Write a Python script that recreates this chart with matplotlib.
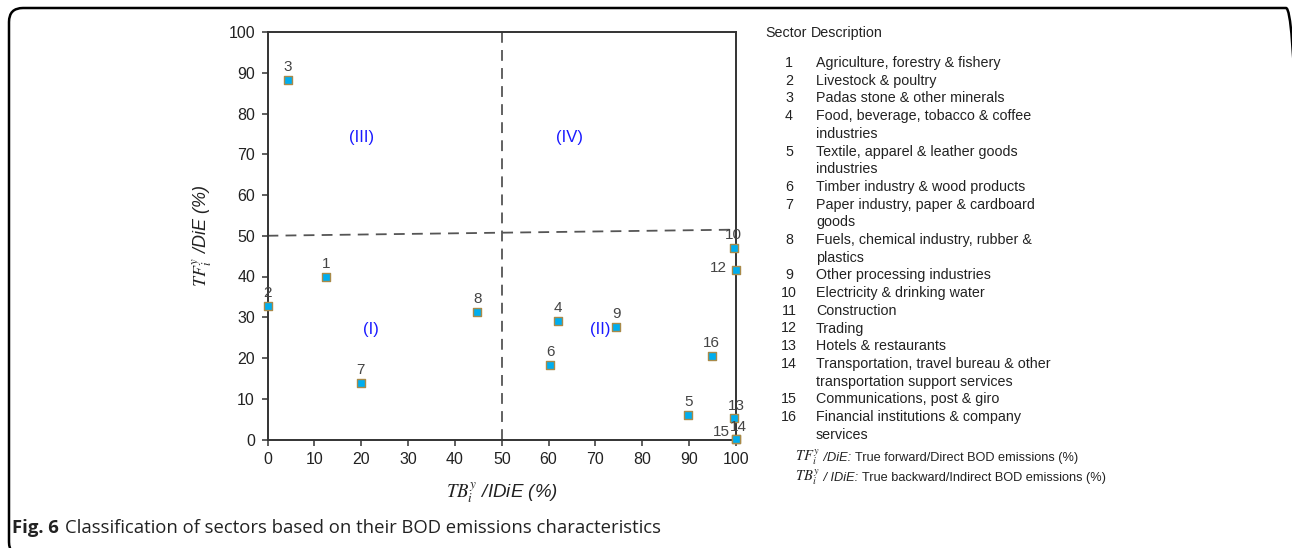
import matplotlib
matplotlib.use("Agg")
import matplotlib.pyplot as plt
from matplotlib.patches import FancyBboxPatch
from matplotlib.transforms import IdentityTransform

plt.rcParams['font.family'] = ['Liberation Sans', 'DejaVu Sans']
plt.rcParams['mathtext.fontset'] = 'stix'

# ---------------- data ----------------
sector_ids = ["1", "2", "3", "4", "5", "6", "7", "8", "9", "10", "12", "13", "14", "15", "16"]
tb_values = [12.5, 0.1, 4.4, 62.0, 89.8, 60.3, 19.9, 44.8, 74.4, 99.5, 100.0, 99.6, 100.0, 100.0, 94.8]
tf_values = [40.0, 32.7, 88.1, 29.2, 6.0, 18.3, 13.8, 31.2, 27.5, 46.9, 41.6, 5.3, 0.1, 0.1, 20.5]

x_ticks = [0, 10, 20, 30, 40, 50, 60, 70, 80, 90, 100]
y_ticks = [0, 10, 20, 30, 40, 50, 60, 70, 80, 90, 100]

quadrant_names = ["(I)", "(II)", "(III)", "(IV)"]
quadrant_x = [22, 71, 20, 64.5]
quadrant_y = [27, 27, 74, 74]

legend_numbers = ["1", "2", "3", "4", "", "5", "", "6", "7", "", "8", "", "9", "10", "11",
                  "12", "13", "14", "", "15", "16", ""]
legend_descriptions = [
    "Agriculture, forestry & fishery",
    "Livestock & poultry",
    "Padas stone & other minerals",
    "Food, beverage, tobacco & coffee",
    "industries",
    "Textile, apparel & leather goods",
    "industries",
    "Timber industry & wood products",
    "Paper industry, paper & cardboard",
    "goods",
    "Fuels, chemical industry, rubber &",
    "plastics",
    "Other processing industries",
    "Electricity & drinking water",
    "Construction",
    "Trading",
    "Hotels & restaurants",
    "Transportation, travel bureau & other",
    "transportation support services",
    "Communications, post & giro",
    "Financial institutions & company",
    "services",
]

# ---------------- figure ----------------
W, H = 1292, 548
DPI = 100
fig = plt.figure(figsize=(W / DPI, H / DPI), dpi=DPI)


def fx(px):
    return px / W


def fy(py):
    return 1 - py / H


# rounded border in pixel units (bottom and right run off the picture)
left_px, top_px, right_px, bottom_px = 9, 8, 1300, 556
border = FancyBboxPatch((left_px, H - bottom_px), right_px - left_px, bottom_px - top_px,
                        boxstyle="round,pad=0,rounding_size=14",
                        transform=IdentityTransform(), fill=False,
                        edgecolor='black', linewidth=1.8, clip_on=False)
fig.patches.append(border)

ax = fig.add_axes([fx(267.5), fy(439.5), fx(736) - fx(267.5), fy(32) - fy(439.5)])
ax.set_xlim(0, 100)
ax.set_ylim(0, 100)
ax.set_xticks(x_ticks)
ax.set_yticks(y_ticks)
ax.tick_params(direction='out', length=4, width=1.1, color='#333333',
               labelsize=11.5, labelcolor='#222222', pad=5)
for s in ax.spines.values():
    s.set_color('#333333')
    s.set_linewidth(1.4)

# quadrant divider lines
ax.plot([50, 50], [0, 100], linestyle=(0, (6, 4)), color='#555555', linewidth=1.3, zorder=2)
ax.plot([0, 100], [50, 51.5], linestyle=(0, (6, 4)), color='#555555', linewidth=1.3, zorder=2)

ax.scatter(tb_values, tf_values, marker='s', s=30, facecolor='#00AEEF',
           edgecolor='#A88A4A', linewidth=1.0, zorder=5, clip_on=False)

# point labels
special = {
    "12": dict(xytext=(-9, 2), ha='right', va='center'),
    "15": dict(xytext=(-6, 7), ha='right', va='center'),
    "14": dict(xytext=(2, 5), ha='center', va='bottom'),
    "13": dict(xytext=(2, 5), ha='center', va='bottom'),
    "10": dict(xytext=(0, 6), ha='center', va='bottom'),
}
for sid, x, y in zip(sector_ids, tb_values, tf_values):
    kw = special.get(sid, dict(xytext=(0, 6), ha='center', va='bottom'))
    ax.annotate(sid, (x, y), textcoords='offset pixels', fontsize=11,
                color='#444444', annotation_clip=False, zorder=6, **kw)

for name, qx, qy in zip(quadrant_names, quadrant_x, quadrant_y):
    ax.text(qx, qy, name, color='#1a1aff', fontsize=12, ha='center', va='center')

ax.set_xlabel(r'$TB_i^y$ /IDiE (%)', style='italic', fontsize=13.5, color='#222222', labelpad=10)
ax.set_ylabel(r'$TF_i^y$ /DiE (%)', style='italic', fontsize=13, color='#222222', labelpad=10)

# legend table on the right
LFS = 10.3
fig.text(fx(765), fy(33), "Sector", fontsize=LFS, color='#222222', va='center')
fig.text(fx(811), fy(33), "Description", fontsize=LFS, color='#222222', va='center')
y0 = 63
dy = 17.7
for i, (num, desc) in enumerate(zip(legend_numbers, legend_descriptions)):
    yy = y0 + i * dy
    if num:
        fig.text(fx(789), fy(yy), num, fontsize=LFS, color='#222222', va='center', ha='center')
    fig.text(fx(816), fy(yy), desc, fontsize=LFS, color='#222222', va='center')

renderer = fig.canvas.get_renderer()


def row(py, parts):
    x = 795
    for txt, kw in parts:
        t = fig.text(fx(x), fy(py), txt, color='#222222', va='center', **kw)
        bb = t.get_window_extent(renderer=renderer)
        x += bb.width


row(458, [(r'$TF_i^y$', dict(fontsize=10.5)),
          (" /DiE: ", dict(fontsize=9.2, style='italic')),
          ("True forward/Direct BOD emissions (%)", dict(fontsize=9.2))])
row(478, [(r'$TB_i^y$', dict(fontsize=10.5)),
          (" / IDiE: ", dict(fontsize=9.2, style='italic')),
          ("True backward/Indirect BOD emissions (%)", dict(fontsize=9.2))])

# caption
cap_font = ['Open Sans', 'DejaVu Sans']
t1 = fig.text(fx(12), fy(528), "Fig. 6", fontsize=13.3, fontweight='bold', color='#222222',
              va='center', family=cap_font)
w1 = t1.get_window_extent(renderer=renderer).width
fig.text(fx(12 + w1 + 6), fy(528),
         "Classification of sectors based on their BOD emissions characteristics",
         fontsize=13.3, color='#222222', va='center', family=cap_font)

fig.savefig("out.png", dpi=DPI)
